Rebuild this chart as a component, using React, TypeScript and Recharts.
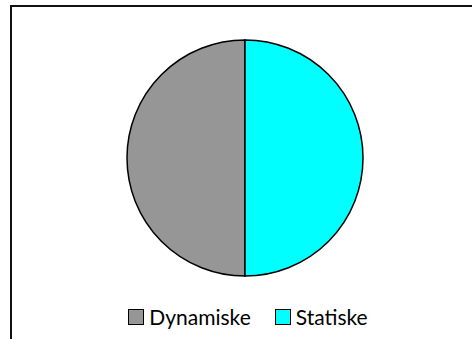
import { PieChart, Pie, Cell, Legend } from 'recharts';

const CATEGORIES = ['Dynamiske', 'Statiske'];
const VALUES = [50, 50];
const COLORS = ['#969696', '#00FFFF'];

const data = CATEGORIES.map((name, i) => ({ name, value: VALUES[i] }));

function LegendBox() {
  return (
    <div style={{ display: 'flex', justifyContent: 'center', alignItems: 'center', fontFamily: 'Lato, sans-serif', fontSize: 21, color: '#000' }}>
      {CATEGORIES.map((c, i) => (
        <div key={c} style={{ display: 'flex', alignItems: 'center', marginRight: i === 0 ? 24 : 0 }}>
          <span style={{ display: 'inline-block', width: 14, height: 14, background: COLORS[i], border: '1.5px solid #000', marginRight: 5 }} />
          <span>{c}</span>
        </div>
      ))}
    </div>
  );
}

export default function App() {
  return (
    <div style={{ position: 'absolute', left: 0, top: 0, width: 472, height: 339, overflow: 'hidden', background: '#fff' }}>
      <div style={{ position: 'absolute', left: 10, top: 5, width: 520, height: 400, border: '2px solid #111' }} />
      <div style={{ position: 'absolute', left: 0, top: 0 }}>
        <PieChart width={472} height={339}>
          <Pie
            data={data}
            dataKey="value"
            nameKey="name"
            cx={240}
            cy={153}
            outerRadius={118}
            startAngle={90}
            endAngle={450}
            stroke="#000"
            strokeWidth={1.5}
            isAnimationActive={false}
          >
            {data.map((d, i) => (
              <Cell key={d.name} fill={COLORS[i]} />
            ))}
          </Pie>
          <Legend content={<LegendBox />} wrapperStyle={{ top: 304, left: 0, width: 496 }} />
        </PieChart>
      </div>
    </div>
  );
}
